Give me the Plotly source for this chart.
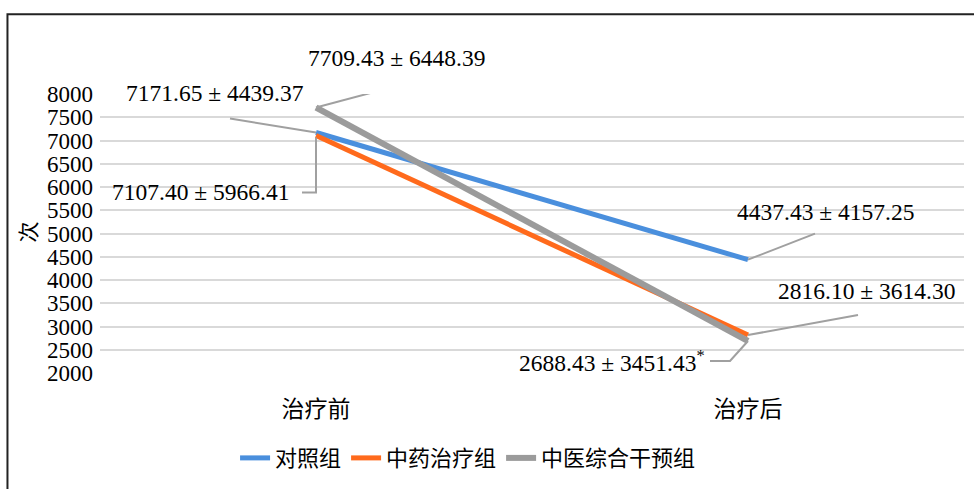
import plotly.graph_objects as go

categories = ["治疗前", "治疗后"]
series_names = ["对照组", "中药治疗组", "中医综合干预组"]
control_vals = [7171.65, 4437.43]
tcm_vals = [7107.40, 2816.10]
integrated_vals = [7709.43, 2688.43]
label_texts = {
    "对照组": ["7171.65 ± 4439.37", "4437.43 ± 4157.25"],
    "中药治疗组": ["7107.40 ± 5966.41", "2816.10 ± 3614.30"],
    "中医综合干预组": ["7709.43 ± 6448.39", "2688.43 ± 3451.43<sup>*</sup>"],
}
y_ticks = list(range(2000, 8001, 500))

SERIF = "Liberation Serif"
CJK = "Noto Sans CJK SC"

colors = {"对照组": "#4A8FDD", "中药治疗组": "#FF6A1C", "中医综合干预组": "#9B9B9B"}
widths = {"对照组": 5, "中药治疗组": 5, "中医综合干预组": 6}
values = {"对照组": control_vals, "中药治疗组": tcm_vals, "中医综合干预组": integrated_vals}

# leader path (pixels, y up, relative to point) and text offset
leaders = {
    ("对照组", 0): ("M0,0 L-86,14", -101, 40),
    ("对照组", 1): ("M0,0 L67,26", 77, 48),
    ("中药治疗组", 0): ("M0,-2 L0,-57 L-14,-57", -116, -56),
    ("中药治疗组", 1): ("M0,0 L110,20", 118, 44),
    ("中医综合干预组", 0): ("M0,0 L75,20", 80, 50),
    ("中医综合干预组", 1): ("M0,0 L-18,-20 L-38,-20", -136, -20),
}

fig = go.Figure()
for name in series_names:
    fig.add_trace(go.Scatter(
        x=categories, y=values[name], mode="lines", name=name,
        line=dict(color=colors[name], width=widths[name]),
    ))

shapes = []
annotations = []
for (name, i), (path, xs, ys) in leaders.items():
    shapes.append(dict(
        type="path", xref="x", yref="y", xsizemode="pixel", ysizemode="pixel",
        xanchor=i, yanchor=values[name][i], path=path,
        line=dict(color="#A0A0A0", width=2),
    ))
    annotations.append(dict(
        x=categories[i], y=values[name][i], xref="x", yref="y",
        xanchor="center", yanchor="middle",
        text=label_texts[name][i], showarrow=False, xshift=xs, yshift=ys,
        font=dict(family=SERIF, size=23.5, color="black"),
    ))

# outer border
shapes.append(dict(type="rect", xref="paper", yref="paper",
                   x0=-0.1071, x1=1.03, y0=-0.45, y1=1.2855,
                   line=dict(color="#222222", width=2), layer="above"))

annotations.append(dict(
    x=-0.0845, y=0.507, xref="paper", yref="paper", text="次", textangle=-90,
    xanchor="center", yanchor="middle",
    showarrow=False, font=dict(family=CJK, size=21, color="black"),
))

fig.update_layout(
    width=974, height=489,
    margin=dict(l=100, r=10, t=94, b=113),
    paper_bgcolor="white", plot_bgcolor="white",
    shapes=shapes, annotations=annotations,
    showlegend=True,
    legend=dict(orientation="h", x=0.426, xanchor="center", y=-0.305, yanchor="middle",
                font=dict(family=CJK, size=22, color="black"),
                bgcolor="rgba(0,0,0,0)"),
    xaxis=dict(type="category", range=[-0.5, 1.5], showgrid=False, showline=False,
               zeroline=False, ticks="", ticklabelstandoff=20,
               tickfont=dict(family=CJK, size=23, color="black")),
    yaxis=dict(range=[2000, 8000], tickvals=y_ticks, showgrid=True,
               gridcolor="#D9D9D9", gridwidth=1.5, showline=False, zeroline=False,
               ticks="", ticklabelstandoff=6,
               tickfont=dict(family=SERIF, size=23, color="black")),
)

fig.write_html("out.html")
